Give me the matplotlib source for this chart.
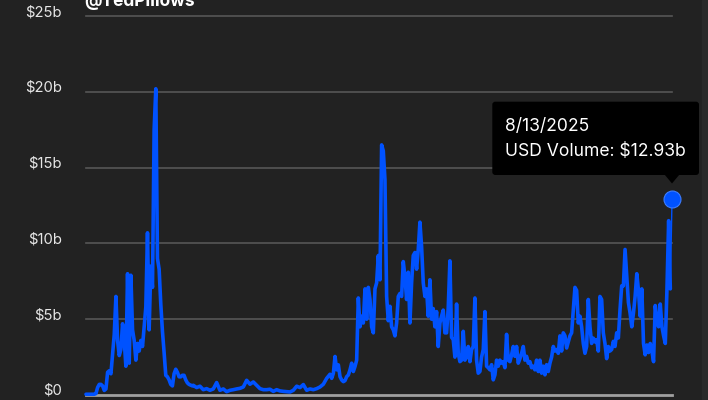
import matplotlib
matplotlib.use('Agg')
import matplotlib.pyplot as plt
import matplotlib.transforms as mtransforms
import matplotlib.dates as mdates
from matplotlib.patches import FancyBboxPatch, Polygon, Rectangle
import pandas as pd

plt.rcParams['font.family'] = ['Inter', 'DejaVu Sans']

# ---- data (USD volume, billions), in date segments ----
vol_2017_2018 = [0.05, 0.05, 0.05, 0.05, 0.05, 0.05, 0.1, 0.5, 0.7, 0.7,
                 0.6, 0.3, 0.4, 1.5, 1.6, 1.4, 2.7, 4.0, 6.5, 3.6,
                 2.6, 3.0, 4.7, 3.6, 1.9, 8.0, 2.1, 7.9, 4.3, 3.6,
                 2.3, 3.4, 2.9, 3.6, 3.2, 4.5, 5.8, 10.7, 4.3, 8.5,
                 7.1, 17.5, 20.2, 9.0, 8.3, 6.0, 4.2, 2.8, 1.3, 1.2,
                 1.0, 0.7, 0.6, 1.4, 1.7, 1.5, 1.2, 1.2, 1.3, 1.3,
                 1.0, 0.8, 0.7, 0.65, 0.6]
vol_2018_2020 = [0.64, 0.49, 0.58, 0.35, 0.42, 0.31, 0.40, 0.82, 0.31, 0.40,
                 0.22, 0.31, 0.35, 0.40, 0.44, 0.53, 0.97, 0.71, 0.86, 0.64,
                 0.42, 0.35, 0.35, 0.38, 0.24, 0.35, 0.27, 0.24, 0.22, 0.20,
                 0.31, 0.58, 0.49, 0.69, 0.31, 0.40, 0.35, 0.42, 0.53, 0.71,
                 1.1, 1.37]
vol_2020_2022 = [1.1, 1.43, 2.54, 1.66, 1.99, 1.21, 0.99, 0.88, 0.95, 1.21,
                 1.32, 1.66, 2.1, 1.55, 1.88, 2.3, 6.4, 4.5, 5.2, 4.75,
                 7.0, 5.0, 7.1, 6.3, 4.5, 4.1, 7.0, 7.4, 9.2, 7.6,
                 16.5, 16.1, 14.2, 6.5, 4.9, 5.85, 4.5, 4.3, 3.9, 4.75,
                 6.5, 6.7, 6.5, 8.8, 7.8, 6.3, 8.1, 4.75, 7.4, 9.2,
                 9.4, 8.3, 9.6, 11.4, 9.8, 7.4, 6.5, 7.0, 5.2, 7.6,
                 5.0, 5.7, 4.5, 5.5, 3.2]
vol_2022_2023 = [4.75, 5.2, 5.6, 4.1, 4.1, 5.75, 8.85, 3.8, 3.65, 2.5,
                 6.0, 2.75, 2.2, 2.3, 4.2, 2.3, 2.5, 3.2, 2.2, 3.0,
                 3.2, 6.4, 2.3, 1.44, 1.55, 2.5, 3.0, 5.5, 1.9, 1.8,
                 1.66, 2.0, 1.0, 1.33, 2.3, 1.9, 2.3, 2.1, 2.2, 1.8,
                 4.0, 2.3, 2.2, 2.65, 3.2, 2.55, 3.2, 2.1, 2.4, 2.75,
                 3.2, 2.3, 2.55, 2.1, 2.2, 1.8, 1.9, 1.66, 2.3, 1.55]
vol_2023_2024 = [2.3, 1.44, 1.9, 1.33, 2.0, 1.55, 2.1, 2.5, 3.2, 2.9,
                 3.0, 2.75, 3.9, 2.9, 4.1, 3.9, 3.1, 3.5, 3.9, 4.1,
                 5.6, 7.1, 6.9, 4.75, 5.2, 4.5, 3.4, 2.75, 3.2, 6.3,
                 4.5, 3.4, 3.75, 3.5, 3.65, 2.9, 6.5, 6.3, 4.1, 3.4,
                 2.4, 3.2, 2.9]
vol_2024_2025 = [3.0, 3.54, 3.2, 4.1, 3.76, 5.64, 7.2, 7.2, 9.6, 7.85,
                 6.1, 5.4, 4.5, 5.4, 6.5, 8.0, 6.9, 5.2, 7.0, 3.4,
                 2.65, 3.3, 2.8, 3.4, 2.9, 2.2, 5.9, 5.0, 4.5, 6.0,
                 4.5, 3.9, 3.4, 7.0, 11.5, 7.0, 12.93]

segment_dates = [("2017-01-01", "2018-07-26"),
                 ("2018-07-31", "2020-08-03"),
                 ("2020-08-12", "2022-03-07"),
                 ("2022-03-16", "2023-08-26"),
                 ("2023-09-04", "2024-09-14"),
                 ("2024-09-23", "2025-08-13")]
segments = [vol_2017_2018, vol_2018_2020, vol_2020_2022,
            vol_2022_2023, vol_2023_2024, vol_2024_2025]

y_ticks = [0, 5, 10, 15, 20, 25]
y_labels = ["$0", "$5b", "$10b", "$15b", "$20b", "$25b"]

tooltip_date = "8/13/2025"
tooltip_label = "USD Volume: $12.93b"
title = "@TedPillows"

dates, values = [], []
for (s, e), vals in zip(segment_dates, segments):
    dates.extend(pd.date_range(s, e, periods=len(vals)))
    values.extend(vals)
xnum = mdates.date2num(dates)

BG = '#222222'
BLUE = '#0052FF'

fig = plt.figure(figsize=(7.08, 4.0), dpi=100, facecolor=BG)
fig.add_artist(Rectangle((702 / 708, 0), 6 / 708, 1, transform=fig.transFigure,
                         color='#2a2a2a', zorder=0))
ax = fig.add_axes([86 / 708, 5 / 400, 586 / 708, 379 / 400])
ax.set_facecolor(BG)
ax.set_xlim(xnum[0], xnum[-1])
ax.set_ylim(0, 25)
for s in ax.spines.values():
    s.set_visible(False)
ax.set_xticks([])
ax.set_yticks([])

for t in y_ticks:
    if t == 0:
        ax.axhline(t, color='#a0a0a0', lw=2.0, zorder=2, clip_on=False)
    else:
        ax.axhline(t, color='#565656', lw=1.2, zorder=1, clip_on=False)

label_trans = mtransforms.offset_copy(ax.get_yaxis_transform(), fig=fig,
                                      x=-24, y=4, units='dots')
for t, lab in zip(y_ticks, y_labels):
    ax.text(0, t, lab, transform=label_trans, ha='right', va='center',
            color='#e6e6e6', fontsize=10.7)

ax.plot(xnum[:-1], values[:-1], color=BLUE, lw=2.6, solid_joinstyle='round',
        solid_capstyle='round', zorder=3, clip_on=False)
ax.plot(xnum[-2:], values[-2:], color=BLUE, lw=1.0, zorder=3, clip_on=False)
ax.plot(xnum[-1], values[-1], 'o', ms=12.2, mfc=BLUE, mec='#3d7dff', mew=0.8,
        zorder=5, clip_on=False)

# tooltip positioned relative to the last point
px, py = ax.transData.transform((xnum[-1], values[-1]))
ident = mtransforms.IdentityTransform()
box = FancyBboxPatch((px - 179.7, py + 24), 206.7, 73.3,
                     boxstyle='round,pad=0,rounding_size=3',
                     transform=ident, facecolor='#000000', edgecolor='none',
                     zorder=10)
fig.add_artist(box)
tri = Polygon([(px - 7.5, py + 24.5), (px + 7.5, py + 24.5), (px, py + 15.5)],
              closed=True, transform=ident, facecolor='#000000',
              edgecolor='none', zorder=10)
fig.add_artist(tri)
fig.text(px - 167, py + 67.6, tooltip_date, transform=ident, color='white',
         fontsize=12.6, va='baseline', ha='left', zorder=11)
fig.text(px - 167, py + 42.6, tooltip_label, transform=ident, color='white',
         fontsize=12.6, va='baseline', ha='left', zorder=11)

fig.text(84 / 708, 394 / 400, title, color='white', fontsize=12.5,
         fontweight='bold', va='baseline', ha='left')

fig.savefig('out.png', dpi=100, facecolor=BG)
